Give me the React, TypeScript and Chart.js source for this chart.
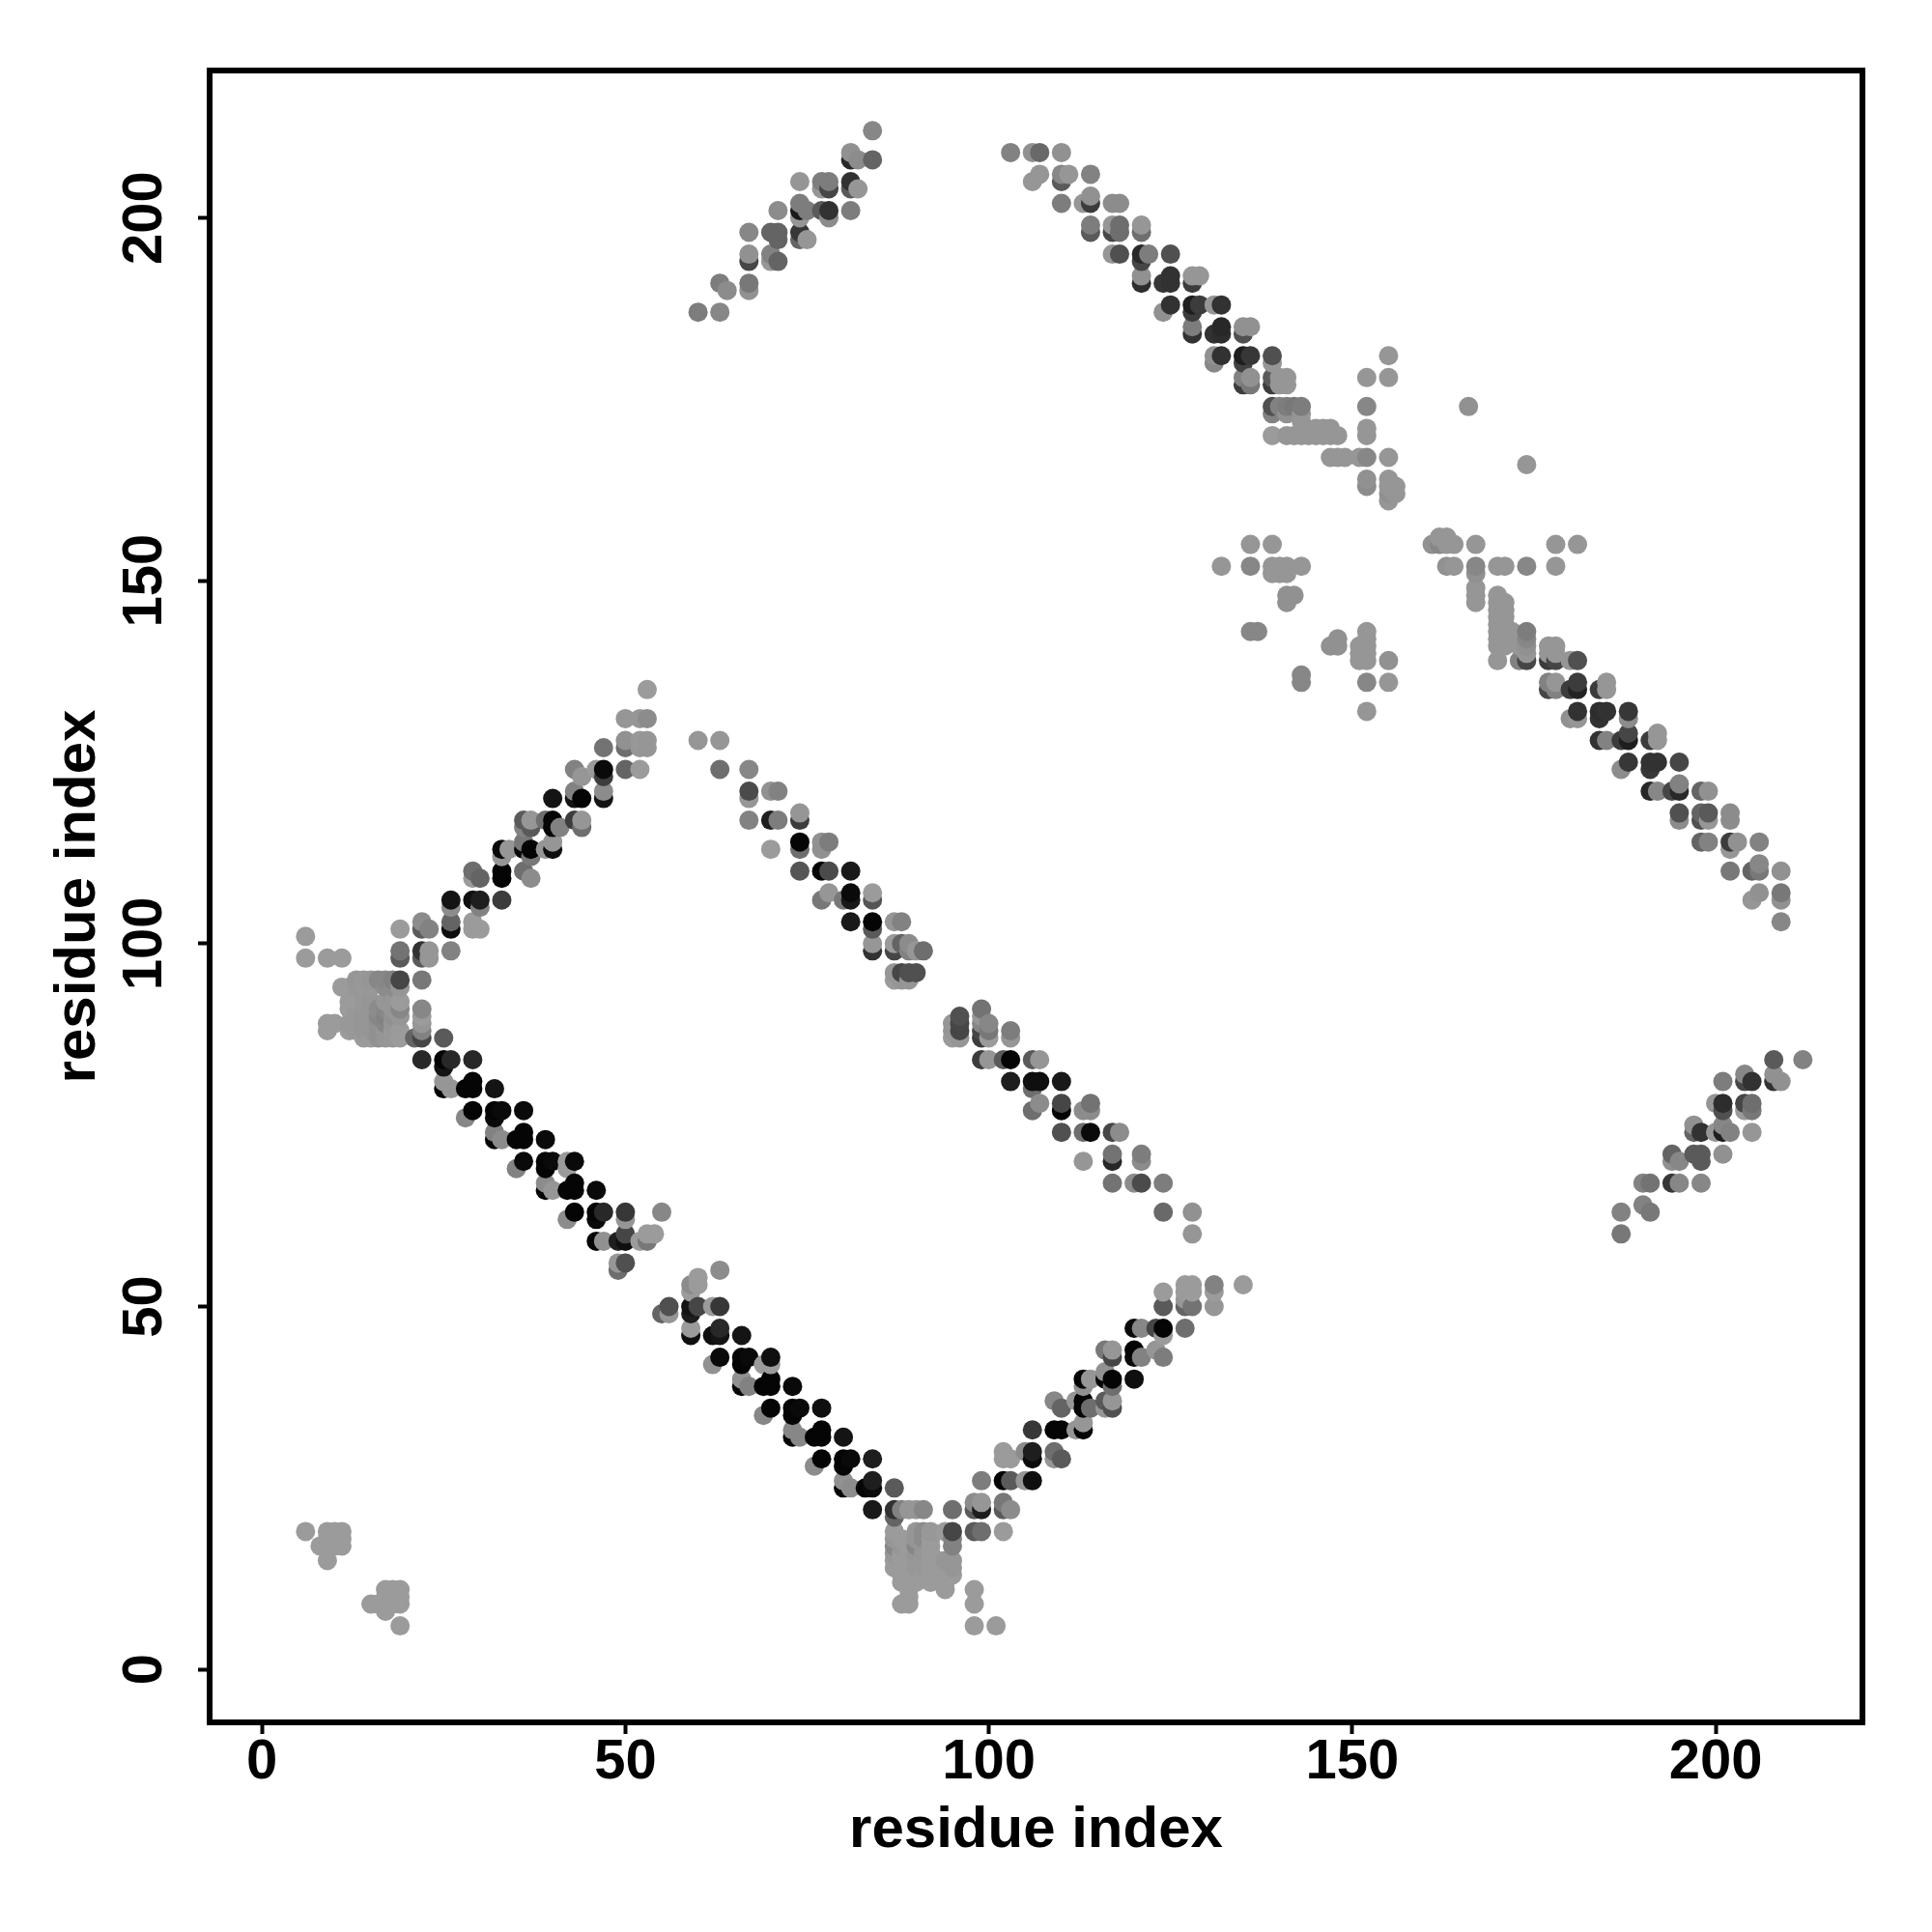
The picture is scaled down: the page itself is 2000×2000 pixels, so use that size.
import React, { useEffect, useRef } from "react";
import { Chart, registerables } from "chart.js";

Chart.register(...registerables);

type Contact = [number, number, number];

const tickValues = [0, 50, 100, 150, 200];
const axisTitle = "residue index";

// each contact: residue x, residue y, grey level
const cornerLow: Contact[] = [
  [6,19,155],[9,19,155],[10,19,155],[11,19,155],[9,18,155],[10,18,155],[11,18,155],[8,17,155],[9,17,155],[10,17,155],[11,17,155],[9,15,155],
  [17,11,155],[18,11,155],[19,11,155],[17,10,155],[18,10,155],[19,10,155],[15,9,155],[16,9,155],[17,9,155],[18,9,155],[19,9,155],[17,8,155],[19,6,155],
];
const clusterLeft: Contact[] = [
  [6,101,155],[6,98,155],[9,98,155],[11,98,155],
  [13,95,150],[14,95,152],[15,95,150],[16,95,135],[17,95,135],[18,95,130],[19,95,70],[22,95,120],
  [11,94,155],[12,94,155],[13,94,152],[14,94,152],[15,94,152],[17,94,140],[18,94,140],[19,94,150],
  [12,92,155],[13,92,155],[14,92,152],[15,92,150],[17,92,150],[18,92,150],[19,92,155],
  [12,91,155],[13,91,152],[14,91,150],[15,91,150],[16,91,140],[17,91,135],[18,91,150],[19,91,135],
  [13,90,152],[14,90,150],[15,90,150],[16,90,135],[17,90,130],[18,90,145],[19,90,150],
  [9,89,155],[10,89,155],[12,89,152],[13,89,152],[14,89,150],[15,89,150],[16,89,145],[17,89,135],[18,89,150],
  [9,88,155],[12,88,155],[13,88,152],[14,88,150],[15,88,150],[16,88,145],[17,88,150],[18,88,152],[19,88,155],
  [14,87,155],[15,87,155],[16,87,145],[17,87,150],[18,87,150],[19,87,155],
  [22,91,135],[22,90,155],[22,89,150],[22,88,130],[22,87,70],[21,87,100],[25,87,90],
];
const helixUpperLeft: Contact[] = [
  [53,135,155],[50,131,150],[52,131,150],[53,131,140],[50,128,145],[50,127,110],[52,128,152],[53,128,150],[52,127,150],[53,127,150],[60,128,150],[63,128,150],[47,127,115],[50,124,100],[52,124,155],
  [43,124,130],[44,123,150],[46,124,155],[47,124,10],[47,123,60],[47,121,140],[47,120,20],[43,121,130],[43,120,20],[44,120,5],[40,120,20],
  [36,117,90],[37,117,150],[36,116,130],[37,116,90],[39,117,110],[40,117,5],[40,116,5],[41,116,130],[43,117,60],[44,117,150],[44,116,110],
  [36,114,120],[36,113,10],[37,113,5],[37,112,120],[39,113,150],[40,114,150],[40,113,15],[33,113,10],[34,113,150],[33,112,150],
  [29,110,110],[29,109,155],[30,109,100],[33,110,5],[33,109,5],[36,110,110],[37,109,140],
  [26,106,20],[26,105,140],[29,106,15],[30,106,30],[30,105,130],[33,106,60],
  [22,103,140],[23,102,130],[22,102,90],[19,102,155],[26,103,100],[26,102,15],[29,103,155],[29,102,155],[30,102,155],
  [19,99,115],[19,98,90],[22,99,50],[23,99,150],[22,98,90],[23,98,150],[26,99,130],
];
const strandLowerLeft: Contact[] = [
  [22,84,40],[25,84,5],[26,84,40],[29,84,40],[25,83,20],
  [25,81,150],[25,80,5],[26,80,150],[28,80,5],[29,81,5],[29,80,5],[32,80,20],
  [29,77,5],[28,76,135],[32,77,5],[33,77,10],[32,76,10],[36,77,10],
  [32,74,130],[33,73,140],[32,73,5],[35,73,5],[36,74,5],[36,73,5],[39,73,10],
  [36,70,10],[35,69,130],[39,70,5],[40,70,10],[39,69,5],[42,70,155],[42,69,155],[43,70,10],
  [39,67,140],[40,66,150],[39,66,5],[42,66,5],[43,67,5],[43,66,5],[46,66,10],
  [43,63,5],[42,62,140],[46,63,5],[47,63,40],[46,62,10],[50,63,55],[50,62,150],[55,63,135],
  [46,59,5],[47,59,145],[49,59,30],[50,59,15],[50,60,70],[52,59,155],[53,59,120],[53,60,155],[54,60,155],
  [49,56,150],[50,56,80],[49,55,110],
];
const strandLowerMiddle: Contact[] = [
  [63,55,140],[60,54,155],[59,53,140],[60,53,155],[59,52,155],
  [55,49,100],[56,49,150],[56,50,80],[59,50,20],[59,49,30],[60,50,70],[62,50,155],[63,50,55],
  [59,47,155],[59,46,15],[62,46,15],[63,47,40],[63,46,20],[66,46,20],
  [63,43,10],[62,42,145],[66,43,5],[67,43,10],[66,42,5],[69,42,155],[70,43,15],[70,42,155],
  [66,40,145],[66,39,5],[67,39,130],[69,39,5],[70,40,5],[70,39,5],[73,39,10],
  [70,36,5],[69,35,135],[73,36,5],[74,36,10],[73,35,5],[77,36,15],
  [73,33,135],[73,32,5],[74,32,135],[76,32,5],[77,33,5],[77,32,5],[80,32,20],
  [77,29,5],[76,28,140],[80,29,5],[81,29,10],[80,28,5],[84,29,30],
  [80,26,145],[81,25,140],[80,25,5],[83,25,5],[84,26,30],[84,25,10],[87,25,90],
  [84,22,25],[87,22,50],[87,21,100],[88,22,130],[89,22,150],[90,22,150],[91,22,135],[95,22,110],
];
const clusterBottom: Contact[] = [
  [87,19,155],[90,19,150],[91,19,140],[92,19,152],[94,19,155],[95,19,70],
  [87,18,150],[88,18,155],[90,18,150],[91,18,140],[92,18,155],[95,18,130],
  [87,17,135],[88,17,150],[90,17,135],[91,17,150],[92,17,155],[95,17,130],
  [87,16,150],[88,16,155],[89,16,155],[90,16,150],[91,16,150],[92,16,155],
  [87,15,155],[88,15,155],[89,15,155],[90,15,152],[91,15,152],[92,15,155],[93,15,155],[94,15,150],[95,15,150],
  [87,14,155],[88,14,155],[89,14,155],[90,14,152],[91,14,152],[92,14,155],[93,14,155],[94,14,155],[95,14,150],
  [88,13,155],[89,13,155],[90,13,155],[91,13,155],[92,13,155],[94,13,155],[95,13,155],
  [88,12,155],[89,12,155],[90,12,155],[92,12,155],[94,12,155],[94,11,155],[89,11,155],[89,10,155],[88,9,155],[89,9,155],
  [98,11,155],[98,9,155],[98,6,155],[101,6,155],
];
const helixLowerRight: Contact[] = [
  [98,19,90],[99,19,110],[102,19,155],
  [98,22,90],[99,23,150],[98,23,140],[99,22,30],[102,23,120],[102,22,90],[103,22,140],
  [99,26,125],[102,26,5],[103,26,90],[105,26,150],[106,26,15],
  [102,30,155],[103,29,155],[102,29,155],[105,30,140],[106,30,30],[106,29,10],[109,30,110],[109,29,150],[110,29,90],
  [106,33,55],[109,33,5],[110,33,5],[112,33,150],[113,34,150],[113,33,5],
  [109,37,135],[110,36,100],[112,37,150],[113,37,5],[113,36,5],[114,36,110],[116,37,90],[116,36,150],[117,37,150],[117,36,80],
  [113,40,5],[114,40,150],[113,39,145],[116,41,145],[116,40,10],[117,40,5],[117,39,110],[120,40,15],
  [116,44,120],[117,44,150],[117,43,70],[120,44,5],[120,43,10],[121,43,130],[123,44,150],[124,43,125],
  [120,47,10],[121,47,135],[123,47,70],[124,47,5],[124,46,155],[127,47,110],
  [124,52,155],[124,50,90],[127,53,155],[127,52,155],[127,51,150],[128,53,155],[128,52,155],[127,50,100],[128,50,115],[131,53,130],[131,52,155],[131,50,150],[135,53,155],
];
const strandMiddleUpper: Contact[] = [
  [63,124,110],[67,124,135],[67,121,75],[67,120,150],[70,121,145],[71,121,130],
  [67,117,130],[70,117,30],[71,117,125],[74,118,150],[74,117,60],
  [70,113,155],[74,114,5],[74,113,110],[77,114,145],[77,113,145],[78,114,125],
  [74,110,85],[77,110,5],[78,110,75],[81,110,25],
  [77,106,120],[78,107,150],[80,106,120],[81,107,10],[81,106,25],[84,107,155],[84,106,85],
  [81,103,25],[84,103,5],[84,102,90],[87,103,150],[88,103,130],
  [84,100,150],[84,99,50],[87,100,155],[87,99,70],[88,100,100],[89,100,140],[89,99,130],[90,99,150],[91,99,110],
  [87,96,150],[87,95,155],[88,96,70],[88,95,150],[89,96,80],[89,95,150],[90,96,80],
];
const strandMiddleLower: Contact[] = [
  [95,89,150],[95,88,150],[95,87,155],[96,90,80],[96,89,70],[96,88,70],[96,87,150],
  [99,91,115],[99,90,150],[99,89,135],[99,88,70],[99,87,60],[100,89,135],[100,88,120],[100,87,155],[103,88,125],[103,87,150],
  [99,84,60],[100,84,150],[102,84,90],[103,84,5],[106,84,90],[107,84,150],
  [103,81,30],[106,81,15],[107,81,15],[106,80,110],[110,81,25],
  [107,78,140],[106,77,110],[110,78,70],[110,77,5],[113,77,140],[114,78,115],[114,77,140],
  [110,74,80],[113,74,110],[114,74,10],[117,74,70],[118,74,140],
  [113,70,150],[117,71,115],[117,70,40],[121,71,125],[121,70,140],
  [117,67,115],[120,67,140],[121,67,75],[124,67,125],[124,63,105],[128,63,145],[128,60,150],
];
const helixTopLeft: Contact[] = [
  [84,212,135],[81,209,145],[81,208,40],[82,208,140],[84,208,100],
  [74,205,150],[77,205,125],[78,205,125],[77,204,150],[78,204,70],[81,205,50],[81,204,90],[82,204,150],
  [71,201,140],[74,202,125],[75,201,125],[74,201,25],[74,200,150],[77,201,90],[78,201,50],[78,200,140],[81,201,125],
  [67,198,135],[70,198,100],[71,198,100],[71,197,100],[74,198,55],[74,197,100],[75,197,150],
  [67,195,145],[67,194,70],[70,195,130],[70,194,150],[71,194,100],
  [63,191,125],[64,190,140],[67,191,120],[67,190,145],[60,187,125],[63,187,135],
];
const strandTopRight: Contact[] = [
  [103,209,130],[106,209,145],[107,209,105],[110,209,145],
  [106,205,150],[107,206,150],[110,206,135],[110,205,90],[111,206,150],[114,206,130],
  [110,202,125],[113,202,150],[114,203,145],[114,202,60],[117,202,140],[118,202,140],
  [114,199,125],[114,198,90],[117,199,150],[117,198,70],[118,199,110],[118,198,110],[121,199,150],[121,198,110],
  [117,195,150],[118,195,80],[121,195,40],[122,195,125],[121,194,70],[125,195,80],
  [121,192,145],[121,191,45],[124,191,55],[125,192,50],[125,191,50],[128,192,150],[128,191,60],[129,192,150],
  [125,188,50],[124,187,145],[128,188,30],[129,188,60],[128,187,60],[131,188,150],[132,188,50],
  [128,185,125],[128,184,50],[131,184,50],[132,185,40],[132,184,45],[135,185,145],[136,185,145],[135,184,80],
  [132,181,50],[131,181,145],[131,180,135],[135,181,30],[136,181,55],[135,180,65],[139,181,80],[139,180,150],
  [135,178,130],[135,177,60],[136,178,145],[136,177,120],[139,178,90],[139,177,60],[140,178,150],[141,178,150],[140,177,150],[141,177,150],
];
const scatterCentre: Contact[] = [
  [155,181,150],[152,178,150],[155,178,150],
  [139,174,80],[140,174,130],[141,174,125],[142,174,120],[143,174,125],[139,173,130],[141,173,145],[143,173,150],[143,172,150],
  [152,174,135],[166,174,145],[145,171,150],[146,171,150],[147,171,150],
  [139,170,155],[141,170,150],[142,170,150],[143,170,150],[144,170,150],[145,170,150],[146,170,150],[147,170,150],[148,170,150],
  [152,171,150],[152,170,150],[147,167,150],[148,167,150],[149,167,150],[151,167,150],[152,167,135],[155,167,150],[174,166,150],
  [152,164,145],[152,163,140],[155,164,150],[155,163,150],[156,163,150],[155,162,145],[156,162,150],[155,161,150],
  [136,155,150],[139,155,150],[132,152,150],[136,152,135],[139,152,150],[140,152,150],[141,152,150],[143,152,150],[139,151,150],[140,151,150],[141,151,150],
  [141,148,145],[142,148,145],[141,147,145],[136,143,135],[137,143,135],[148,142,145],[147,141,145],[148,141,145],
  [152,143,150],[151,141,150],[152,142,150],[152,141,150],[151,140,150],[152,140,150],[151,139,150],[152,139,150],[155,139,145],
  [143,137,135],[143,136,135],[152,136,135],[155,136,150],[152,132,150],
  [161,155,145],[162,156,150],[163,156,150],[162,155,135],[163,155,150],[164,155,150],[167,155,150],
  [163,152,145],[164,152,150],[167,152,135],[167,151,145],[167,149,150],[167,148,150],[167,147,150],[170,152,150],[171,152,150],[174,152,135],[178,155,150],[181,155,150],[178,152,150],
  [170,148,150],[170,147,150],[170,146,150],[170,145,150],[170,144,150],[170,143,150],[170,142,150],[170,141,150],[170,139,150],
  [171,147,150],[171,146,150],[171,145,150],[171,144,150],[171,143,150],[171,142,150],[171,141,150],[172,143,150],
  [173,141,150],[173,139,130],[174,143,125],[174,142,135],[174,141,145],[174,140,150],[174,139,70],
];
const strandRight: Contact[] = [
  [177,141,150],[178,141,150],[177,140,150],[178,140,150],[177,139,60],[178,139,70],[180,139,150],[181,139,80],
  [177,136,130],[177,135,70],[178,136,150],[178,135,130],[180,135,60],[181,136,60],[181,135,35],[184,135,60],[185,136,150],[185,135,150],
  [180,131,145],[181,132,50],[181,131,150],[184,132,45],[185,132,50],[184,131,50],[188,132,55],[188,131,140],
  [184,128,50],[185,128,130],[187,128,60],[188,129,70],[188,128,30],[191,128,60],[192,129,150],[192,128,150],
  [188,125,55],[187,124,140],[191,125,50],[192,125,50],[191,124,55],[195,125,70],
  [191,121,40],[192,121,135],[194,121,70],[195,122,130],[195,121,40],[198,121,100],[199,121,145],
  [195,118,80],[195,117,140],[198,118,100],[198,117,80],[199,118,90],[199,117,150],[202,118,140],[202,117,140],
  [198,114,100],[199,114,130],[202,114,60],[202,113,150],[203,114,145],[206,114,130],
  [202,110,120],[205,110,100],[206,111,135],[206,110,120],[209,110,145],
  [205,106,150],[206,107,145],[209,107,120],[209,106,145],[209,103,135],
];
const helixFarRight: Contact[] = [
  [208,84,90],[212,84,130],[204,82,135],[208,82,145],[204,81,70],[205,81,50],[201,81,125],[208,81,50],[209,81,145],
  [200,78,150],[201,78,45],[201,77,80],[204,78,70],[205,78,110],[204,77,155],[205,77,120],
  [197,75,145],[201,75,135],[197,74,100],[198,74,50],[200,74,150],[201,74,30],[202,74,130],[205,74,150],
  [194,71,100],[194,70,145],[195,70,135],[197,71,90],[198,71,90],[198,70,90],[201,71,145],
  [190,67,130],[191,67,115],[194,67,55],[195,67,135],[198,67,135],
  [190,64,130],[191,63,120],[187,63,130],[187,60,120],
];

const allContacts: Contact[] = [
  ...cornerLow, ...clusterLeft, ...helixUpperLeft, ...strandLowerLeft, ...strandLowerMiddle,
  ...clusterBottom, ...helixLowerRight, ...strandMiddleUpper, ...strandMiddleLower,
  ...helixTopLeft, ...strandTopRight, ...scatterCentre, ...strandRight, ...helixFarRight,
].sort((a, b) => a[0] - b[0] || a[1] - b[1]);

const FONT = "'Liberation Sans', Arial, sans-serif";

const framePlugin = {
  id: "frame",
  afterDatasetsDraw(chart: Chart) {
    const { ctx, chartArea: a } = chart;
    ctx.save();
    ctx.strokeStyle = "#000";
    ctx.lineWidth = 6;
    ctx.strokeRect(a.left, a.top, a.right - a.left, a.bottom - a.top);
    ctx.restore();
  },
};

export default function App() {
  const ref = useRef<HTMLCanvasElement>(null);
  useEffect(() => {
    const chart = new Chart(ref.current!, {
      type: "scatter",
      data: {
        datasets: [
          {
            data: allContacts.map(([x, y]) => ({ x, y })),
            backgroundColor: allContacts.map(([, , g]) => `rgb(${g},${g},${g})`),
            borderWidth: 0,
            pointRadius: 10,
          },
        ],
      },
      options: {
        animation: false,
        responsive: false,
        devicePixelRatio: 1,
        layout: { padding: { top: 73, right: 72, left: 0, bottom: 0 } },
        plugins: { legend: { display: false }, tooltip: { enabled: false } },
        scales: {
          x: {
            type: "linear",
            min: -7.2,
            max: 220.2,
            afterBuildTicks: (s: any) => { s.ticks = tickValues.map((value) => ({ value })); },
            afterFit: (s: any) => { s.height = 217; },
            grid: { drawOnChartArea: false, drawTicks: true, tickLength: 12, tickWidth: 4, tickColor: "#000" },
            border: { display: false },
            ticks: { autoSkip: false, maxRotation: 0, minRotation: 0, padding: -5, color: "#000", font: { family: FONT, size: 58, weight: "bold" } },
            title: { display: true, text: axisTitle, color: "#000", font: { family: FONT, size: 60, weight: "bold" }, padding: { top: 0, bottom: 69 } },
          },
          y: {
            type: "linear",
            min: -7.3,
            max: 220.3,
            afterBuildTicks: (s: any) => { s.ticks = tickValues.map((value) => ({ value })); },
            afterFit: (s: any) => { s.width = 217; },
            grid: { drawOnChartArea: false, drawTicks: true, tickLength: 12, tickWidth: 4, tickColor: "#000" },
            border: { display: false },
            ticks: { autoSkip: false, minRotation: 90, maxRotation: 90, crossAlign: "center", padding: 6, color: "#000", font: { family: FONT, size: 58, weight: "bold" } },
            title: { display: true, text: axisTitle, color: "#000", font: { family: FONT, size: 60, weight: "bold" }, padding: { top: 45, bottom: 0 } },
          },
        },
      },
      plugins: [framePlugin],
    } as any);
    return () => chart.destroy();
  }, []);
  return (
    <div style={{ position: "absolute", left: 0, top: 0, width: 2000, height: 2000, background: "#fff" }}>
      <canvas ref={ref} width={2000} height={2000} style={{ display: "block" }} />
    </div>
  );
}
